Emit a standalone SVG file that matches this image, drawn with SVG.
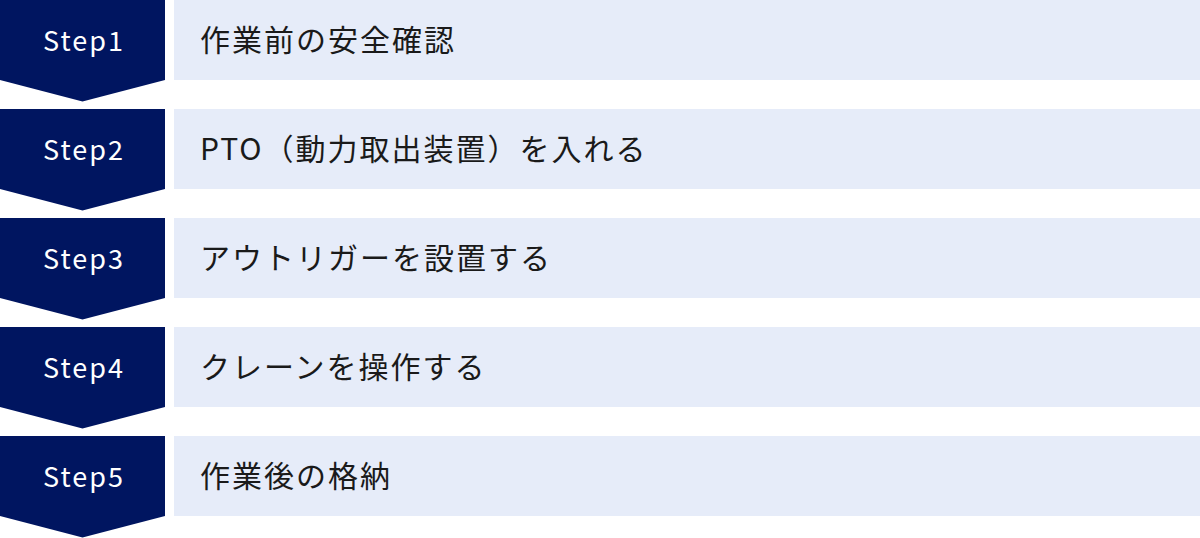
<svg xmlns="http://www.w3.org/2000/svg" width="1200" height="538" viewBox="0 0 1200 538">
<style>
.bg{fill:#e6ecf9}
.badge{fill:#001560}
.step{font-family:"Noto Sans CJK JP","Noto Sans",sans-serif;font-size:27px;fill:#ffffff;letter-spacing:2px;text-anchor:middle}
.label{font-family:"Noto Sans CJK JP","Noto Sans",sans-serif;font-size:30px;fill:#1a1a1a;letter-spacing:2px}
</style>
<defs>
<path id="chev" d="M0 0H165V80L82.5 101.5L0 80Z"/>
</defs>
<rect width="1200" height="538" fill="#ffffff"/>
<g id="connectors"></g>
<g id="step1">
<rect class="bg" x="174" y="0" width="1026" height="80"/>
<use href="#chev" class="badge" x="0" y="0"/>
<text class="step" x="84" y="51">Step1</text>
<text class="label" x="200" y="51">作業前の安全確認</text>
</g>
<g id="step2">
<rect class="bg" x="174" y="109" width="1026" height="80"/>
<use href="#chev" class="badge" x="0" y="109"/>
<text class="step" x="84" y="160">Step2</text>
<text class="label" x="200" y="160">PTO（動力取出装置）を入れる</text>
</g>
<g id="step3">
<rect class="bg" x="174" y="218" width="1026" height="80"/>
<use href="#chev" class="badge" x="0" y="218"/>
<text class="step" x="84" y="269">Step3</text>
<text class="label" x="200" y="269">アウトリガーを設置する</text>
</g>
<g id="step4">
<rect class="bg" x="174" y="327" width="1026" height="80"/>
<use href="#chev" class="badge" x="0" y="327"/>
<text class="step" x="84" y="378">Step4</text>
<text class="label" x="200" y="378">クレーンを操作する</text>
</g>
<g id="step5">
<rect class="bg" x="174" y="436" width="1026" height="80"/>
<use href="#chev" class="badge" x="0" y="436"/>
<text class="step" x="84" y="487">Step5</text>
<text class="label" x="200" y="487">作業後の格納</text>
</g>
</svg>
